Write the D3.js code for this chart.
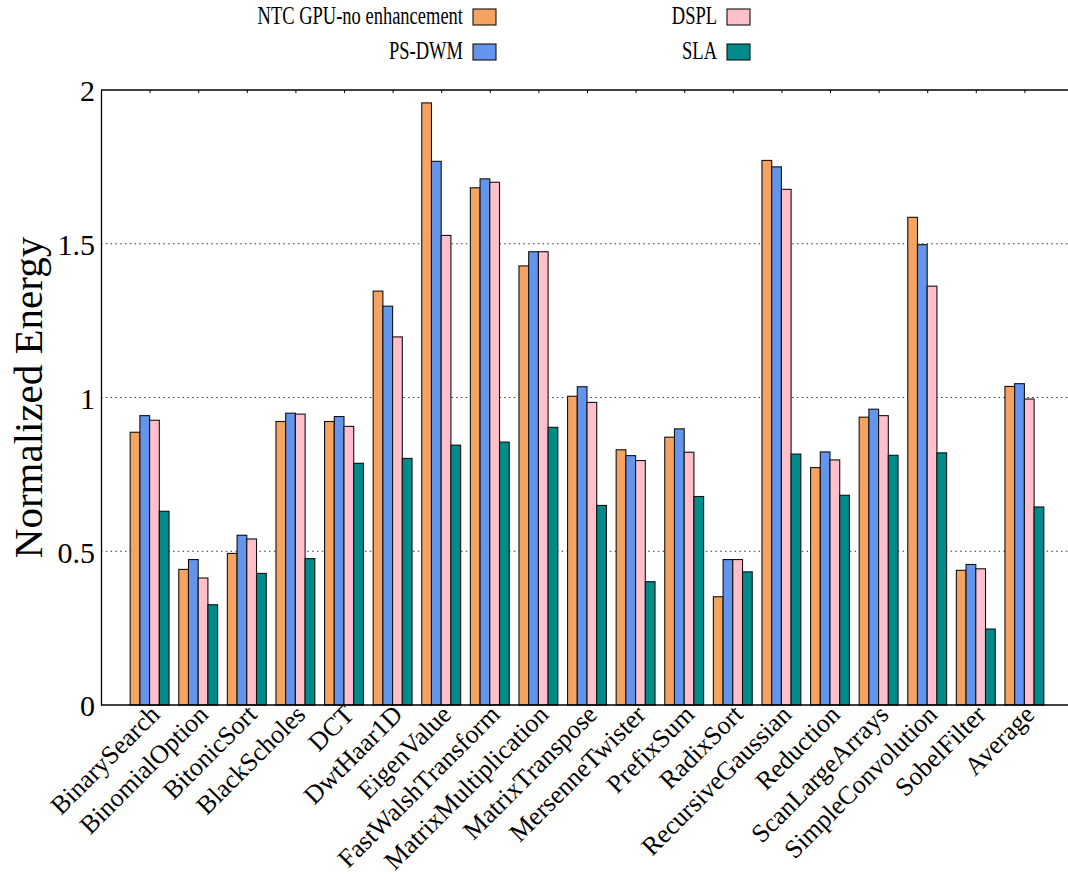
<!DOCTYPE html>
<html>
<head>
<meta charset="utf-8">
<script src="https://cdn.jsdelivr.net/npm/d3@7"></script>
<style>
  body { margin: 0; background: #fff; }
  text { font-family: "Liberation Serif", "DejaVu Serif", serif; }
</style>
</head>
<body>
<svg id="chart" width="1068" height="880"></svg>
<script>
var categories = ["BinarySearch", "BinomialOption", "BitonicSort", "BlackScholes", "DCT",
	"DwtHaar1D", "EigenValue", "FastWalshTransform", "MatrixMultiplication", "MatrixTranspose",
	"MersenneTwister", "PrefixSum", "RadixSort", "RecursiveGaussian", "Reduction",
	"ScanLargeArrays", "SimpleConvolution", "SobelFilter", "Average"];
var seriesNames = ["NTC GPU-no enhancement", "PS-DWM", "DSPL", "SLA"];
var seriesColors = ["#F4A460", "#6495ED", "#FFC0CB", "#008B8B"];

var ntc  = [0.887, 0.441, 0.493, 0.922, 0.922, 1.346, 1.958, 1.682, 1.428, 1.004, 0.830, 0.871, 0.352, 1.771, 0.772, 0.936, 1.586, 0.438, 1.036];
var psdwm = [0.941, 0.473, 0.552, 0.949, 0.938, 1.297, 1.768, 1.711, 1.474, 1.035, 0.811, 0.898, 0.473, 1.750, 0.823, 0.962, 1.497, 0.457, 1.045];
var dspl = [0.926, 0.413, 0.540, 0.946, 0.906, 1.197, 1.527, 1.700, 1.474, 0.984, 0.795, 0.822, 0.473, 1.677, 0.797, 0.941, 1.362, 0.443, 0.995];
var sla  = [0.630, 0.326, 0.428, 0.476, 0.786, 0.802, 0.845, 0.855, 0.903, 0.649, 0.401, 0.678, 0.433, 0.816, 0.682, 0.812, 0.820, 0.247, 0.644];
var yTicks = [0, 0.5, 1, 1.5, 2];

var seriesValues = [ntc, psdwm, dspl, sla];
var svg = d3.select("#chart");
var margin = { top: 90, right: -5, bottom: 175, left: 101 };
var width = 1068, height = 880;

var x = d3.scalePoint()
	.domain(categories)
	.range([margin.left, width - margin.right])
	.padding(1);
var step = x.step();
var xSub = d3.scaleBand()
	.domain(d3.range(seriesNames.length))
	.range([-step * 0.4, step * 0.4]);
var y = d3.scaleLinear()
	.domain([0, 2])
	.range([height - margin.bottom, margin.top]);

// dotted grid
svg.append("g")
	.selectAll("line")
	.data([0.5, 1, 1.5])
	.enter()
	.append("line")
	.attr("x1", margin.left)
	.attr("x2", width)
	.attr("y1", d => y(d))
	.attr("y2", d => y(d))
	.attr("stroke", "#333")
	.attr("stroke-width", 1.2)
	.attr("stroke-dasharray", "1.5,3.3");

// bars
var rows = [];
categories.forEach((c, i) => {
	seriesValues.forEach((s, j) => rows.push({ cat: c, k: j, v: s[i] }));
});
svg.append("g")
	.selectAll("rect")
	.data(rows)
	.enter()
	.append("rect")
	.attr("x", d => x(d.cat) + xSub(d.k))
	.attr("y", d => y(d.v))
	.attr("width", xSub.bandwidth())
	.attr("height", d => y(0) - y(d.v))
	.attr("fill", d => seriesColors[d.k])
	.attr("stroke", "#111")
	.attr("stroke-width", 1.1);

// top frame with ticks
svg.append("g")
	.attr("transform", `translate(0, ${margin.top})`)
	.call(d3.axisTop(x).tickSize(-3).tickFormat(""))
	.call(g => g.select(".domain").attr("d", `M${margin.left},0H${width}`).attr("stroke-width", 1.3));

// bottom axis
var xAxis = svg.append("g")
	.attr("transform", `translate(0, ${y(0)})`)
	.call(d3.axisBottom(x).tickSize(0).tickPadding(0));
xAxis.select(".domain").attr("d", `M${margin.left},0H${width}`).attr("stroke-width", 1.3);
xAxis.selectAll("text")
	.attr("font-size", "26px")
	.attr("fill", "#000")
	.attr("text-anchor", "end")
	.attr("dy", "0")
	.attr("y", 0)
	.attr("transform", "translate(11, 11) rotate(-45)");

// left axis
var yAxis = svg.append("g")
	.attr("transform", `translate(${margin.left}, 0)`)
	.call(d3.axisLeft(y).tickValues(yTicks).tickSize(0).tickPadding(6).tickFormat(d3.format("")));
yAxis.select(".domain").attr("stroke-width", 1.3);
yAxis.selectAll("text")
	.attr("font-size", "30px")
	.attr("fill", "#000")
	.attr("dy", "0.36em");

svg.append("text")
	.attr("transform", "rotate(-90)")
	.attr("x", -(y(1)))
	.attr("y", 42)
	.attr("text-anchor", "middle")
	.attr("font-size", "41px")
	.attr("fill", "#000")
	.text("Normalized Energy");

// legend
var legendPos = [[463, 24], [463, 59], [717, 24], [717, 59]];
var legend = svg.append("g")
	.selectAll("g")
	.data(seriesNames)
	.enter()
	.append("g")
	.attr("transform", (d, i) => `translate(${legendPos[i][0]}, ${legendPos[i][1]})`);
legend.append("text")
	.attr("text-anchor", "end")
	.attr("font-size", "25px")
	.attr("transform", "scale(0.74, 1)")
	.attr("fill", "#000")
	.text(d => d);
legend.append("rect")
	.attr("x", 10)
	.attr("y", -15)
	.attr("width", 23)
	.attr("height", 16)
	.attr("fill", (d, i) => seriesColors[i])
	.attr("stroke", "#111")
	.attr("stroke-width", 1.1);
</script>
</body>
</html>
